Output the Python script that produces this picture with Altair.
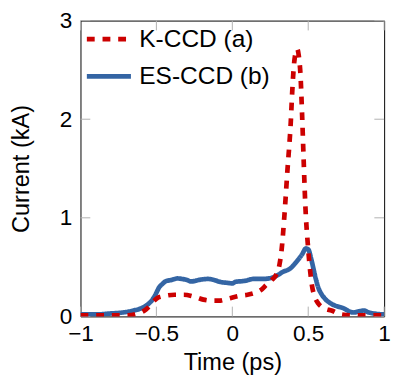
import altair as alt
import pandas as pd

# ---- data ----
x_ticks = [-1, -0.5, 0, 0.5, 1]
y_ticks = [0, 1, 2, 3]
series_names = ["K-CCD (a)", "ES-CCD (b)"]
series_colors = ["#cc0000", "#3465a4"]

k_time = [-1.0, -0.8, -0.7, -0.62, -0.57, -0.548, -0.52, -0.49, -0.44, -0.38,
          -0.32, -0.25, -0.19, -0.14, -0.09, -0.03, 0.05, 0.10, 0.15, 0.19,
          0.224, 0.26, 0.288, 0.31, 0.325, 0.342, 0.363, 0.385, 0.395, 0.406,
          0.418, 0.428, 0.438, 0.449, 0.46, 0.47, 0.48, 0.50, 0.524, 0.545,
          0.567, 0.61, 0.653, 0.717, 0.8, 1.0]
k_current = [0.01, 0.01, 0.01, 0.03, 0.07, 0.10, 0.15, 0.19, 0.21, 0.22,
             0.22, 0.20, 0.17, 0.16, 0.16, 0.18, 0.21, 0.22, 0.24, 0.27,
             0.32, 0.37, 0.42, 0.52, 0.68, 1.0, 1.48, 1.97, 2.29, 2.55,
             2.68, 2.71, 2.64, 2.45, 2.03, 1.58, 1.16, 0.68, 0.32, 0.19,
             0.13, 0.08, 0.06, 0.02, 0.01, 0.01]

es_time = [-1.0, -0.9, -0.8, -0.72, -0.65, -0.59, -0.55, -0.526, -0.50, -0.484,
           -0.46, -0.44, -0.40, -0.36, -0.33, -0.30, -0.27, -0.22, -0.16, -0.12,
           -0.08, -0.03, 0.0, 0.02, 0.08, 0.14, 0.20, 0.256, 0.30, 0.331,
           0.385, 0.42, 0.46, 0.485, 0.50, 0.52, 0.535, 0.55, 0.567, 0.59,
           0.61, 0.65, 0.695, 0.737, 0.77, 0.80, 0.83, 0.865, 0.90, 0.93, 1.0]
es_current = [0.02, 0.02, 0.03, 0.04, 0.06, 0.09, 0.13, 0.17, 0.24, 0.29,
              0.33, 0.355, 0.37, 0.385, 0.38, 0.37, 0.355, 0.37, 0.38, 0.37,
              0.35, 0.34, 0.335, 0.35, 0.36, 0.38, 0.38, 0.39, 0.42, 0.45,
              0.49, 0.55, 0.63, 0.69, 0.68, 0.58, 0.48, 0.38, 0.29, 0.22,
              0.18, 0.13, 0.10, 0.08, 0.05, 0.04, 0.05, 0.06, 0.04, 0.03, 0.02]

FONT = "Liberation Sans"
FS_TICK = 23
FS_TITLE = 24
FS_LEGEND = 25
W, H = 310, 302

k_df = pd.DataFrame({"time": k_time, "current": k_current, "series": series_names[0]})
es_df = pd.DataFrame({"time": es_time, "current": es_current, "series": series_names[1]})
xt_df = pd.DataFrame({"time": x_ticks})
yt_df = pd.DataFrame({"current": y_ticks})

xscale = alt.Scale(domain=[-1, 1], nice=False, zero=False)
yscale = alt.Scale(domain=[0, 3], nice=False, zero=False)
color_scale = alt.Scale(domain=series_names, range=series_colors)
dash_scale = alt.Scale(domain=series_names, range=[[8, 8], [1, 0]])

legend = alt.Legend(
    title=None, orient="none", legendX=4, legendY=-6, padding=0,
    symbolType="stroke", symbolSize=2025, symbolStrokeWidth=4.8,
    labelFont=FONT, labelFontSize=FS_LEGEND, labelColor="black",
    labelOffset=6, rowPadding=-15,
)

x_axis = alt.Axis(
    values=x_ticks, format="~g", labelFont=FONT, labelFontSize=FS_TICK,
    labelColor="black", labelPadding=7, labelFlush=False, labelOverlap=False,
    title="Time (ps)", titleFont=FONT, titleFontSize=FS_TITLE, titleFontWeight="normal",
    titleColor="black", titleX=W / 2, titleY=54, titleBaseline="alphabetic",
    domain=False, ticks=False, tickSize=0, grid=False,
)
y_axis = alt.Axis(
    values=y_ticks, format="~g", labelFont=FONT, labelFontSize=FS_TICK,
    labelColor="black", labelPadding=9, labelFlush=False, labelOverlap=False,
    title="Current (kA)", titleFont=FONT, titleFontSize=FS_TITLE, titleFontWeight="normal",
    titleColor="black", titleX=-53, titleY=H / 2, titleAngle=270,
    titleBaseline="alphabetic",
    domain=False, ticks=False, tickSize=0, grid=False,
)

TICK = "#b0b0b0"
tick_bottom = alt.Chart(xt_df).mark_rule(color=TICK, strokeWidth=1).encode(
    x=alt.X("time:Q", scale=xscale, axis=x_axis), y=alt.value(H), y2=alt.value(H - 10))
tick_top = alt.Chart(xt_df).mark_rule(color=TICK, strokeWidth=1).encode(
    x=alt.X("time:Q", scale=xscale, axis=x_axis), y=alt.value(0), y2=alt.value(10))
tick_left = alt.Chart(yt_df).mark_rule(color=TICK, strokeWidth=1).encode(
    y=alt.Y("current:Q", scale=yscale, axis=y_axis), x=alt.value(0), x2=alt.value(10))
tick_right = alt.Chart(yt_df).mark_rule(color=TICK, strokeWidth=1).encode(
    y=alt.Y("current:Q", scale=yscale, axis=y_axis), x=alt.value(W), x2=alt.value(W - 10))


def line_layer(df):
    return alt.Chart(df).mark_line(strokeWidth=4.8, interpolate="monotone", clip=True).encode(
        x=alt.X("time:Q", scale=xscale, axis=x_axis),
        y=alt.Y("current:Q", scale=yscale, axis=y_axis),
        color=alt.Color("series:N", scale=color_scale, legend=legend),
        strokeDash=alt.StrokeDash("series:N", scale=dash_scale, legend=legend),
    )


chart = alt.layer(
    tick_bottom, tick_top, tick_left, tick_right,
    line_layer(es_df), line_layer(k_df),
).properties(
    width=W, height=H,
    autosize=alt.AutoSizeParams(type="none"),
    padding={"left": 74, "top": 9, "right": 7, "bottom": 59},
).configure(font=FONT).configure_view(
    stroke="black", strokeWidth=1
)

chart.save("out.html", embed_options={"renderer": "svg", "actions": False})
